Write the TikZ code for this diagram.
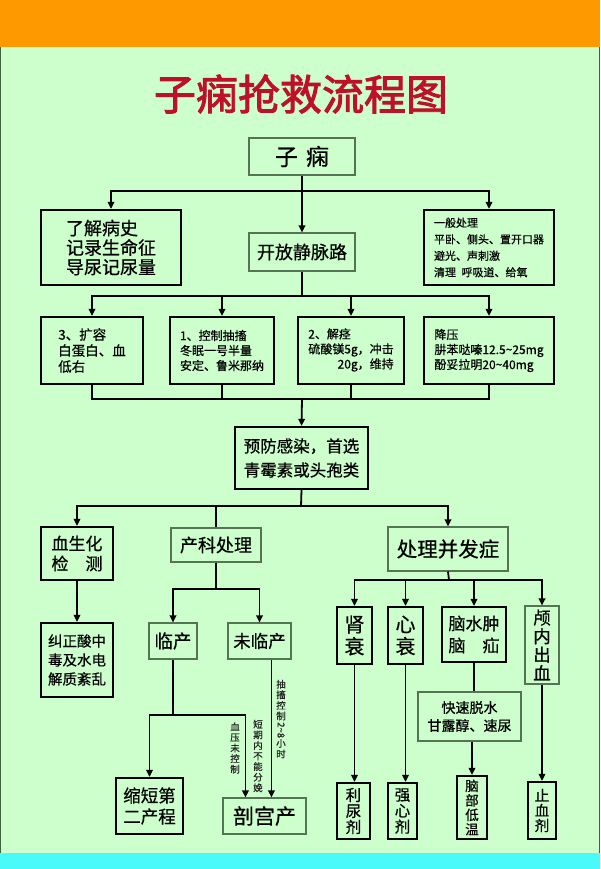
\documentclass[tikz,border=0pt]{standalone}
\usepackage{fontspec}
\setmainfont{Noto Sans CJK SC}[FakeBold=0.6]
\newfontfamily\titlefont{Noto Sans CJK SC}[FakeBold=2.2]
\usepackage{graphicx}
\usetikzlibrary{arrows.meta}
\definecolor{bggreen}{RGB}{204,255,204}
\definecolor{topor}{RGB}{255,153,0}
\definecolor{botcy}{RGB}{72,250,250}
\definecolor{thinc}{RGB}{85,115,85}
\definecolor{titred}{RGB}{190,16,40}
\definecolor{edgec}{RGB}{60,100,60}
\newcommand{\fsz}[2]{\fontsize{#1}{#2}\selectfont}
\begin{document}
\begin{tikzpicture}[x=1pt,y=-1pt,
  thickbox/.style={draw=black, line width=2.2pt, inner sep=0pt, align=center},
  thinbox/.style={draw=thinc, line width=1.1pt, inner sep=0pt, align=center},
  conn/.style={line width=1.8pt, black},
  arr/.style={conn, -{Triangle[length=7pt,width=6.5pt]}},
  vlabel/.style={inner sep=0pt, align=center, text=black!85, font=\fsz{9.5}{10.6}}
]
\useasboundingbox (0,0) rectangle (600,869);
\fill[bggreen] (0,47) rectangle (600,853);
\fill[topor] (0,0) rectangle (600,47);
\fill[botcy] (0,853) rectangle (600,869);
\draw[edgec, line width=1.2pt] (0.6,47) -- (0.6,853);
\draw[edgec, line width=1.2pt] (599.4,47) -- (599.4,853);

% title
\node[text=titred, font=\titlefont\fsz{42}{44}, inner sep=0pt] (title) at (301,94) {子痫抢救流程图};

% level 1
\node[thinbox, minimum width=106pt, minimum height=37pt, font=\fsz{23}{25}] (zb) at (302,156.5) {子\hspace{0.35em}痫};
\node[thickbox, align=left, minimum width=140pt, minimum height=75pt, font=\fsz{18}{19.5}] (a1) at (111,247.5) {了解病史\\记录生命征\\导尿记尿量};
\node[thinbox, minimum width=106pt, minimum height=38pt, font=\fsz{18}{20}] (a2) at (302,252) {开放静脉路};
\node[thickbox, align=left, minimum width=130pt, minimum height=75pt, font=\fsz{11}{16.5}] (a3) at (489,247.5) {一般处理\\平卧、侧头、置开口器\\避光、声刺激\\清理\hspace{0.5em}呼吸道、给氧};

% level 2
\node[thickbox, align=left, minimum width=102pt, minimum height=67pt, font=\fsz{13.5}{16}] (r1) at (92,350.5) {3、扩容\\白蛋白、血\\低右};
\node[thickbox, align=left, minimum width=104pt, minimum height=67pt, font=\fsz{12}{15}] (r2) at (222,350.5) {1、控制抽搐\\冬眠一号半量\\安定、鲁米那纳};
\node[thickbox, minimum width=106pt, minimum height=67pt, font=\fsz{12}{15}] (r3) at (351,350.5) {\renewcommand{\arraystretch}{1}\begin{tabular}{@{}l@{}}2、解痉\\硫酸镁5g，冲击\\\multicolumn{1}{@{}r@{}}{20g，维持}\end{tabular}};
\node[thickbox, align=left, minimum width=130pt, minimum height=67pt, font=\fsz{12}{15}] (r4) at (489,350.5) {降压\\肼苯哒嗪12.5\textasciitilde 25mg\\酚妥拉明20\textasciitilde 40mg};

% level 3
\node[thickbox, minimum width=133pt, minimum height=62pt, font=\fsz{16.5}{24}] (p) at (301.5,458) {预防感染，首选\\青霉素或头孢类};

% level 4
\node[thickbox, minimum width=72pt, minimum height=53pt, font=\fsz{17}{20}] (c1) at (77,553.5) {血生化\\检\hspace{1em}测};
\node[thinbox, minimum width=90pt, minimum height=34pt, font=\fsz{18}{20}] (c2) at (216,545) {产科处理};
\node[thinbox, minimum width=120pt, minimum height=44pt, font=\fsz{20.5}{22}] (c3) at (448,549) {处理并发症};

% left column
\node[thickbox, minimum width=72pt, minimum height=74pt, font=\fsz{14.5}{19}] (d1) at (77,660) {纠正酸中\\毒及水电\\解质紊乱};

% obstetric branch
\node[thinbox, minimum width=48pt, minimum height=36pt, font=\fsz{18.5}{20}] (e1) at (173,641) {临产};
\node[thinbox, minimum width=63pt, minimum height=36pt, font=\fsz{17.5}{20}] (e2) at (259.5,641) {未临产};
\node[thickbox, minimum width=67pt, minimum height=56pt, font=\fsz{17.5}{21}] (f1) at (149.5,806) {缩短第\\二产程};
\node[thinbox, minimum width=83pt, minimum height=36pt, font=\fsz{21}{23}] (f2) at (264.5,816) {剖宫产};

% complications
\node[thickbox, minimum width=35pt, minimum height=57pt, font=\fsz{20}{22}] (g1) at (354.5,635.5) {肾\\衰};
\node[thickbox, minimum width=35pt, minimum height=57pt, font=\fsz{20}{22}] (g2) at (405.5,635.5) {心\\衰};
\node[thickbox, minimum width=64pt, minimum height=55pt, font=\fsz{17}{22}] (g3) at (474,634.5) {脑水肿\\脑\hspace{1em}疝};
\node[thinbox, minimum width=34pt, minimum height=78pt, font=\fsz{17.5}{18.5}] (g4) at (542,645) {颅\\内\\出\\血};
\node[thinbox, minimum width=103pt, minimum height=49pt, font=\fsz{14}{18}] (q) at (469.5,716.5) {快速脱水\\甘露醇、速尿};
\node[thickbox, minimum width=33pt, minimum height=56pt, font=\fsz{15.5}{16}] (h1) at (353.5,811) {利\\尿\\剂};
\node[thickbox, minimum width=29pt, minimum height=56pt, font=\fsz{15.5}{16}] (h2) at (402.5,811) {强\\心\\剂};
\node[thickbox, minimum width=30pt, minimum height=63pt, font=\fsz{13.5}{14.5}] (h3) at (472,807.5) {脑\\部\\低\\温};
\node[thickbox, minimum width=28pt, minimum height=57pt, font=\fsz{14.5}{15}] (h4) at (542,810.5) {止\\血\\剂};

% vertical labels
\node[vlabel] (l1) at (235,748) {血\\压\\未\\控\\制};
\node[vlabel] (l2) at (258,756) {短\\期\\内\\不\\能\\分\\娩};
\node[vlabel] (l3) at (281,719) {抽\\搐\\控\\制\\\tikz[baseline=(rt.base)]\node[rotate=-90, inner sep=0pt, anchor=center] (rt) {2\textasciitilde 8};\\小\\时};

% junctions
\coordinate (j1) at (302,191);
\coordinate (j2) at (302,296);
\coordinate (j3) at (302,399);
\coordinate (j4) at (301,506);
\coordinate (j5) at (216,589);
\coordinate (j6) at (173,715);
\coordinate (j7) at (449,580);

% connectors
\draw[conn] (zb.south) -- (j1);
\draw[arr] (j1) -| (a1.north);
\draw[arr] (j1) -| (a3.north);
\draw[arr] (j1) -- (a2.north);

\draw[conn] (a2.south) -- (j2);
\draw[arr] (j2) -| (r1.north);
\draw[arr] (j2) -| (r2.north);
\draw[arr] (j2) -| (r3.north);
\draw[arr] (j2) -| (r4.north);

\draw[conn] (r1.south) |- (j3);
\draw[conn] (r4.south) |- (j3);
\draw[conn] (r2.south) -- (r2.south |- j3);
\draw[conn] (r3.south) -- (r3.south |- j3);
\draw[arr] (j3) -- (p.north);

\draw[conn] (p.south) -- (j4);
\draw[arr] (j4) -| (c1.north);
\draw[conn] (j4) -| (c2.north);
\draw[arr] (j4) -| (c3.north);

\draw[arr] (c1.south) -- (d1.north);

\draw[conn] (c2.south) -- (j5);
\draw[arr] (j5) -| (e1.north);
\draw[arr] (j5) -| (e2.north);

\draw[conn] (e1.south) -- (j6);
\draw[arr] (j6) -| (f1.north);
\draw[arr] (j6) -| ([xshift=23pt]f2.north west);
\draw[arr] ([xshift=44pt]e2.south west) -- ([xshift=44pt]e2.south west |- f2.north);

\draw[conn] (c3.south) -- (j7);
\draw[arr] (j7) -| (g1.north);
\draw[arr] (j7) -| (g2.north);
\draw[arr] (j7) -| (g3.north);
\draw[arr] (j7) -| (g4.north);

\draw[arr] (g1.south) -- (g1.south |- h1.north);
\draw[arr] (g2.south) -- (g2.south |- h2.north);
\draw[conn] (g3.south) -- (g3.south |- q.north);
\draw[arr] (h3.north |- q.south) -- (h3.north);
\draw[arr] (g4.south) -- (h4.north);
\end{tikzpicture}
\end{document}
